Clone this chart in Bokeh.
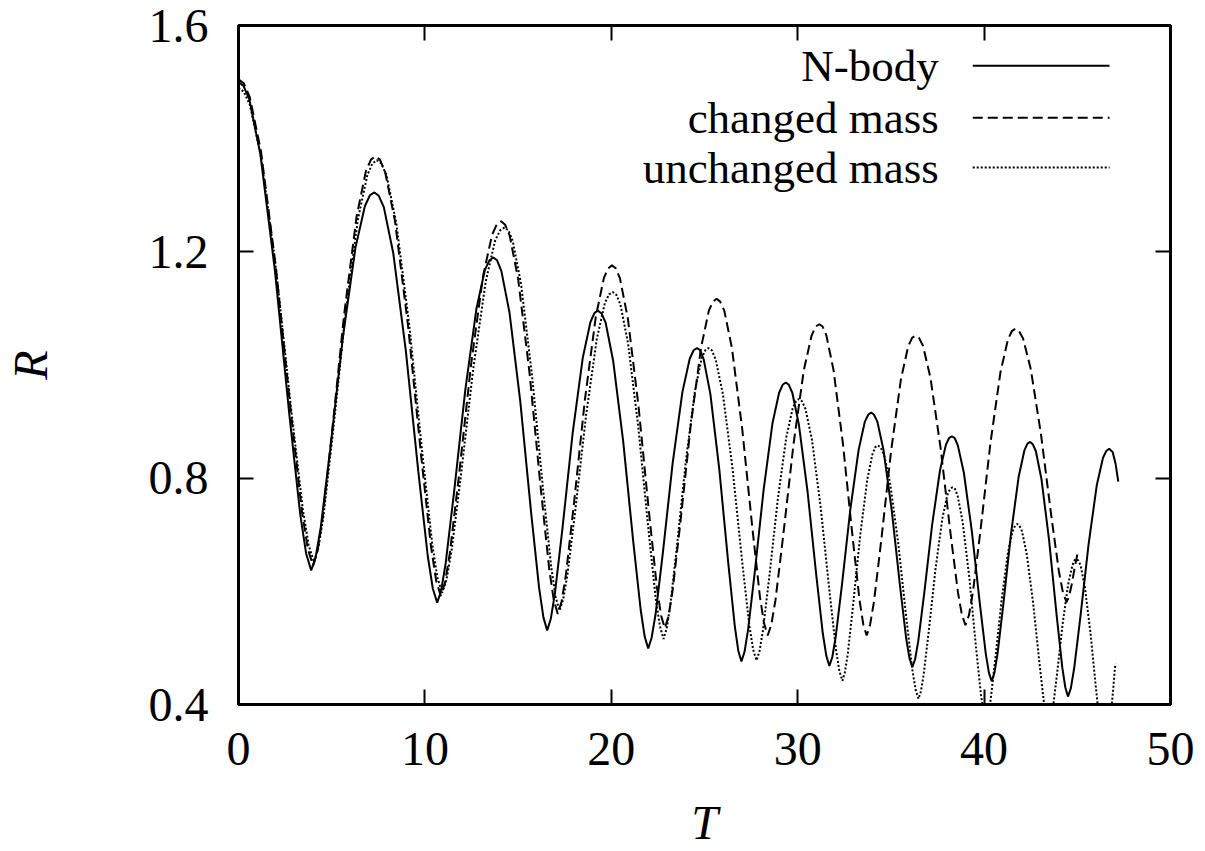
from bokeh.plotting import figure
from bokeh.models import Range1d, FixedTicker, LinearAxis, Label
from bokeh.embed import file_html
from bokeh.resources import INLINE

# ---------------- data ----------------
t_nbody = [0.000, 0.273, 0.585, 1.170, 1.950, 2.730, 3.315, 3.627, 3.900,
           4.137, 4.409, 4.917, 5.595, 6.273, 6.782, 7.053, 7.290,
           7.526, 7.796, 8.301, 8.975, 9.649, 10.155, 10.424, 10.660,
           10.871, 11.112, 11.563, 12.165, 12.767, 13.219, 13.459, 13.670,
           13.872, 14.104, 14.537, 15.115, 15.693, 16.127, 16.358, 16.560,
           16.751, 16.970, 17.379, 17.925, 18.471, 18.881, 19.099, 19.290,
           19.478, 19.694, 20.097, 20.635, 21.173, 21.577, 21.792, 21.980,
           22.163, 22.373, 22.766, 23.290, 23.814, 24.207, 24.417, 24.600,
           24.767, 24.957, 25.314, 25.790, 26.266, 26.623, 26.813, 26.980,
           27.147, 27.337, 27.694, 28.170, 28.646, 29.003, 29.193, 29.360,
           29.524, 29.711, 30.062, 30.530, 30.998, 31.349, 31.536, 31.700,
           31.857, 32.036, 32.372, 32.820, 33.268, 33.604, 33.783, 33.940,
           34.095, 34.272, 34.603, 35.045, 35.487, 35.819, 35.995, 36.150,
           36.298, 36.468, 36.786, 37.210, 37.634, 37.952, 38.122, 38.270,
           38.420, 38.591, 38.912, 39.340, 39.768, 40.089, 40.260, 40.410,
           40.554, 40.719, 41.028, 41.440, 41.852, 42.161, 42.326, 42.470,
           42.612, 42.775, 43.079, 43.485, 43.891, 44.196, 44.358, 44.500,
           44.655, 44.832, 45.163, 45.605, 46.047, 46.379, 46.555, 46.710,
           46.900, 47.050, 47.200]
r_nbody = [1.500, 1.493, 1.469, 1.373, 1.168, 0.912, 0.735, 0.667, 0.637,
           0.660, 0.712, 0.850, 1.048, 1.207, 1.281, 1.300, 1.305,
           1.299, 1.279, 1.198, 1.026, 0.811, 0.662, 0.605, 0.580,
           0.601, 0.649, 0.775, 0.955, 1.100, 1.168, 1.185, 1.190,
           1.185, 1.166, 1.093, 0.936, 0.741, 0.606, 0.554, 0.531,
           0.551, 0.595, 0.711, 0.879, 1.013, 1.076, 1.092, 1.096,
           1.091, 1.075, 1.008, 0.866, 0.689, 0.567, 0.520, 0.499,
           0.518, 0.559, 0.668, 0.826, 0.952, 1.011, 1.026, 1.030,
           1.026, 1.010, 0.949, 0.817, 0.653, 0.539, 0.495, 0.476,
           0.493, 0.532, 0.633, 0.779, 0.897, 0.951, 0.965, 0.969,
           0.965, 0.951, 0.895, 0.776, 0.628, 0.525, 0.486, 0.468,
           0.484, 0.519, 0.611, 0.744, 0.850, 0.900, 0.912, 0.916,
           0.912, 0.900, 0.850, 0.743, 0.610, 0.517, 0.482, 0.466,
           0.480, 0.512, 0.596, 0.717, 0.814, 0.859, 0.871, 0.874,
           0.871, 0.858, 0.810, 0.707, 0.579, 0.490, 0.456, 0.441,
           0.456, 0.489, 0.576, 0.701, 0.802, 0.849, 0.861, 0.864,
           0.860, 0.848, 0.798, 0.691, 0.558, 0.465, 0.430, 0.414,
           0.429, 0.464, 0.554, 0.683, 0.788, 0.836, 0.848, 0.852,
           0.846, 0.826, 0.794]

t_changed = [0.000, 0.280, 0.600, 1.200, 2.000, 2.800, 3.400, 3.720, 4.000,
             4.234, 4.501, 5.002, 5.670, 6.338, 6.839, 7.106, 7.340,
             7.586, 7.867, 8.393, 9.095, 9.797, 10.324, 10.604, 10.850,
             11.077, 11.336, 11.822, 12.470, 13.118, 13.604, 13.863, 14.090,
             14.303, 14.546, 15.002, 15.610, 16.218, 16.674, 16.917, 17.130,
             17.334, 17.567, 18.003, 18.585, 19.167, 19.604, 19.836, 20.040,
             20.238, 20.465, 20.889, 21.455, 22.021, 22.446, 22.672, 22.870,
             23.065, 23.287, 23.704, 24.260, 24.816, 25.233, 25.455, 25.650,
             25.842, 26.061, 26.472, 27.020, 27.568, 27.979, 28.198, 28.390,
             28.584, 28.806, 29.221, 29.775, 30.329, 30.745, 30.966, 31.160,
             31.338, 31.541, 31.922, 32.430, 32.938, 33.319, 33.522, 33.700,
             33.883, 34.093, 34.486, 35.010, 35.534, 35.927, 36.137, 36.320,
             36.508, 36.722, 37.124, 37.660, 38.196, 38.598, 38.812, 39.000,
             39.188, 39.402, 39.804, 40.340, 40.876, 41.278, 41.492, 41.680,
             41.872, 42.091, 42.502, 43.050, 43.598, 44.009, 44.228, 44.420,
             44.550, 44.700, 44.850, 45.000]
r_changed = [1.505, 1.498, 1.474, 1.379, 1.174, 0.919, 0.742, 0.675, 0.645,
             0.670, 0.727, 0.876, 1.090, 1.263, 1.343, 1.363, 1.369,
             1.363, 1.341, 1.255, 1.070, 0.840, 0.680, 0.619, 0.592,
             0.615, 0.667, 0.803, 0.999, 1.157, 1.230, 1.249, 1.254,
             1.248, 1.229, 1.152, 0.987, 0.781, 0.638, 0.584, 0.560,
             0.582, 0.630, 0.757, 0.939, 1.085, 1.154, 1.171, 1.176,
             1.171, 1.153, 1.082, 0.929, 0.740, 0.607, 0.557, 0.535,
             0.555, 0.601, 0.721, 0.893, 1.031, 1.096, 1.112, 1.117,
             1.112, 1.096, 1.030, 0.888, 0.712, 0.589, 0.543, 0.522,
             0.541, 0.584, 0.698, 0.860, 0.991, 1.052, 1.068, 1.072,
             1.068, 1.052, 0.991, 0.860, 0.698, 0.584, 0.541, 0.522,
             0.541, 0.582, 0.691, 0.848, 0.974, 1.033, 1.048, 1.052,
             1.048, 1.034, 0.977, 0.855, 0.703, 0.598, 0.558, 0.540,
             0.558, 0.599, 0.707, 0.862, 0.987, 1.045, 1.060, 1.064,
             1.060, 1.047, 0.993, 0.878, 0.735, 0.636, 0.598, 0.581,
             0.590, 0.612, 0.640, 0.665]

t_unchanged = [0.000, 0.284, 0.608, 1.215, 2.025, 2.835, 3.443, 3.766, 4.050,
               4.286, 4.556, 5.061, 5.735, 6.409, 6.915, 7.184, 7.420,
               7.665, 7.945, 8.470, 9.170, 9.870, 10.395, 10.675, 10.920,
               11.155, 11.423, 11.925, 12.595, 13.265, 13.768, 14.036, 14.270,
               14.477, 14.713, 15.155, 15.745, 16.335, 16.778, 17.014, 17.220,
               17.420, 17.649, 18.078, 18.650, 19.222, 19.651, 19.880, 20.080,
               20.270, 20.488, 20.896, 21.440, 21.984, 22.392, 22.610, 22.800,
               22.969, 23.162, 23.523, 24.005, 24.487, 24.849, 25.041, 25.210,
               25.391, 25.597, 25.984, 26.500, 27.016, 27.403, 27.609, 27.790,
               27.950, 28.132, 28.474, 28.930, 29.386, 29.728, 29.910, 30.070,
               30.233, 30.420, 30.769, 31.235, 31.701, 32.051, 32.237, 32.400,
               32.533, 32.685, 32.970, 33.350, 33.730, 34.015, 34.167, 34.300,
               34.453, 34.627, 34.954, 35.390, 35.826, 36.153, 36.327, 36.480,
               36.608, 36.755, 37.029, 37.395, 37.761, 38.036, 38.182, 38.310,
               38.435, 38.579, 38.847, 39.205, 39.563, 39.832, 39.975, 40.100,
               40.218, 40.352, 40.604, 40.940, 41.276, 41.528, 41.662, 41.780,
               41.898, 42.034, 42.287, 42.625, 42.963, 43.217, 43.352, 43.470,
               43.574, 43.694, 43.917, 44.215, 44.513, 44.737, 44.856, 44.960,
               45.064, 45.184, 45.407, 45.705, 46.003, 46.227, 46.346, 46.450,
               46.550, 46.700, 46.850, 47.040]
r_unchanged = [1.490, 1.483, 1.460, 1.367, 1.167, 0.919, 0.747, 0.681, 0.652,
               0.677, 0.732, 0.879, 1.089, 1.258, 1.336, 1.356, 1.362,
               1.356, 1.335, 1.250, 1.068, 0.841, 0.683, 0.624, 0.597,
               0.620, 0.670, 0.803, 0.994, 1.148, 1.220, 1.238, 1.243,
               1.238, 1.219, 1.144, 0.982, 0.782, 0.643, 0.590, 0.566,
               0.586, 0.630, 0.746, 0.912, 1.046, 1.109, 1.125, 1.129,
               1.124, 1.107, 1.039, 0.893, 0.712, 0.585, 0.538, 0.516,
               0.534, 0.574, 0.680, 0.832, 0.954, 1.012, 1.026, 1.030,
               1.026, 1.010, 0.949, 0.818, 0.654, 0.540, 0.497, 0.478,
               0.494, 0.530, 0.625, 0.762, 0.872, 0.923, 0.936, 0.940,
               0.936, 0.922, 0.867, 0.748, 0.601, 0.498, 0.459, 0.442,
               0.457, 0.489, 0.575, 0.698, 0.797, 0.843, 0.855, 0.858,
               0.854, 0.842, 0.792, 0.686, 0.553, 0.461, 0.426, 0.410,
               0.423, 0.452, 0.529, 0.640, 0.729, 0.771, 0.781, 0.784,
               0.781, 0.769, 0.723, 0.625, 0.502, 0.417, 0.385, 0.370,
               0.382, 0.409, 0.481, 0.585, 0.668, 0.706, 0.716, 0.719,
               0.716, 0.706, 0.666, 0.581, 0.475, 0.401, 0.373, 0.360,
               0.370, 0.394, 0.455, 0.543, 0.613, 0.646, 0.655, 0.657,
               0.654, 0.645, 0.607, 0.527, 0.428, 0.358, 0.332, 0.320,
               0.325, 0.355, 0.398, 0.472]

series_names = ["N-body", "changed mass", "unchanged mass"]
x_ticks = [0, 10, 20, 30, 40, 50]
y_ticks = [0.4, 0.8, 1.2, 1.6]
x_label = "T"
y_label = "R"

# ---------------- styling ----------------
FONT = "Liberation Serif"
TICK_FS = "48px"
LEG_FS = "45px"
dashes = ["solid", "10 5", "2 2"]

p = figure(width=1205, height=851,
           x_range=Range1d(0, 50), y_range=Range1d(0.4, 1.6),
           output_backend="svg", toolbar_location=None,
           min_border_left=237, min_border_right=35,
           min_border_top=25, min_border_bottom=147)
p.xgrid.visible = False
p.ygrid.visible = False
p.background_fill_color = "white"
p.border_fill_color = "white"
p.outline_line_color = "black"
p.outline_line_width = 3

def style_axis(ax, ticks, show_labels):
    ax.ticker = FixedTicker(ticks=ticks)
    ax.axis_line_color = None
    ax.major_tick_in = 15
    ax.major_tick_out = 0
    ax.major_tick_line_width = 2
    ax.major_tick_line_color = "black"
    ax.minor_tick_line_color = None
    if show_labels:
        ax.major_label_text_font = FONT
        ax.major_label_text_font_size = TICK_FS
        ax.major_label_text_color = "black"
    else:
        ax.major_label_text_color = None
        ax.major_label_overrides = {tk: "" for tk in ticks}
        ax.major_label_standoff = 0

style_axis(p.xaxis[0], x_ticks, True)
p.xaxis[0].major_label_standoff = 28
p.xaxis[0].axis_label = x_label
p.xaxis[0].axis_label_text_font = FONT
p.xaxis[0].axis_label_text_font_style = "italic"
p.xaxis[0].axis_label_text_font_size = TICK_FS
p.xaxis[0].axis_label_text_color = "black"
p.xaxis[0].axis_label_standoff = 28

style_axis(p.yaxis[0], y_ticks, True)
p.yaxis[0].major_label_standoff = 30
p.yaxis[0].axis_label = y_label
p.yaxis[0].axis_label_text_font = FONT
p.yaxis[0].axis_label_text_font_style = "italic"
p.yaxis[0].axis_label_text_font_size = TICK_FS
p.yaxis[0].axis_label_text_color = "black"
p.yaxis[0].axis_label_standoff = 89

top = LinearAxis()
style_axis(top, x_ticks, False)
p.add_layout(top, "above")
right = LinearAxis()
style_axis(right, y_ticks, False)
p.add_layout(right, "right")

# curves
ts = [t_nbody, t_changed, t_unchanged]
rs = [r_nbody, r_changed, r_unchanged]
for t, r, d in zip(ts, rs, dashes):
    p.line(t, r, line_color="black", line_width=2, line_dash=d)

# legend (gnuplot style: text right-aligned, sample to the right)
leg_rows = [1.529, 1.437, 1.349]
for name, yy, d in zip(series_names, leg_rows, dashes):
    p.add_layout(Label(x=37.57, y=yy, text=name, text_align="right",
                       text_baseline="middle", text_font=FONT,
                       text_font_size=LEG_FS, text_color="black"))
    p.line([39.39, 46.73], [yy, yy], line_color="black", line_width=2,
           line_dash=d)

open("out.html", "w").write(file_html(p, INLINE))
